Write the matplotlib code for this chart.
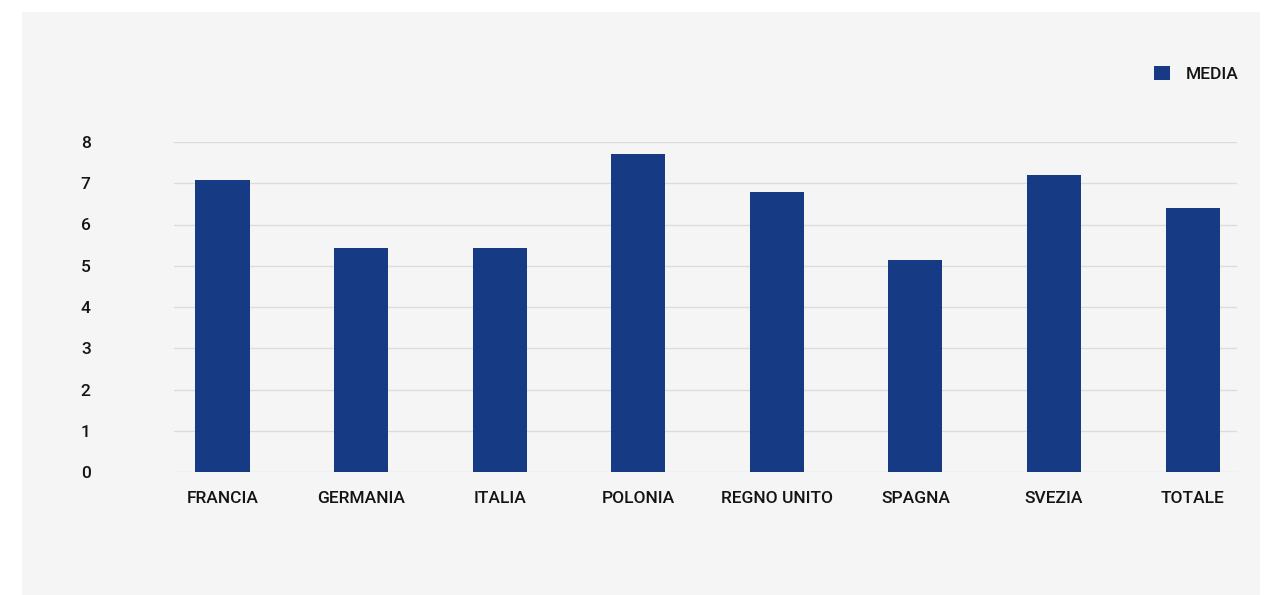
import matplotlib

matplotlib.use("Agg")
import matplotlib.pyplot as plt
from matplotlib.patches import Rectangle

paesi = ["FRANCIA", "GERMANIA", "ITALIA", "POLONIA", "REGNO UNITO",
         "SPAGNA", "SVEZIA", "TOTALE"]
media = [7.07, 5.42, 5.42, 7.70, 6.78, 5.15, 7.21, 6.41]
y_ticks = [0, 1, 2, 3, 4, 5, 6, 7, 8]

BLUE = "#163a84"
PANEL = "#f5f5f5"
GRID = "#dcdcdc"
TEXT = "#141414"

plt.rcParams["font.family"] = ["Roboto", "DejaVu Sans"]
plt.rcParams["font.weight"] = "medium"

W, H = 1275, 595
fig = plt.figure(figsize=(W / 100, H / 100), dpi=100)
fig.patch.set_facecolor("white")
fig.add_artist(Rectangle((22 / W, 0), (1260 - 22) / W, (595 - 12) / H,
                         transform=fig.transFigure, facecolor=PANEL,
                         edgecolor="none", zorder=0))

ax = fig.add_axes([174 / W, 1 - 472 / H, (1237 - 174) / W, (472 - 142) / H])
ax.set_facecolor("none")

x = list(range(len(paesi)))
ax.bar(x, media, width=0.39, color=BLUE, label="MEDIA", zorder=3)

ax.set_xlim(-0.35, len(paesi) - 1 + 0.32)
ax.set_ylim(0, 8)
ax.set_yticks(y_ticks)
ax.set_xticks(x)
ax.set_xticklabels(paesi)
ax.grid(axis="y", color=GRID, linewidth=1, zorder=0)
for s in ax.spines.values():
    s.set_visible(False)
ax.tick_params(axis="both", length=0, labelsize=12.5, colors=TEXT)
ax.tick_params(axis="y", pad=60)
ax.tick_params(axis="x", pad=14)

fig.legend(loc="upper right", bbox_to_anchor=(1254 / W, 1 - 50 / H),
           frameon=False, prop={"size": 12.5, "weight": "medium"},
           handlelength=0.9, handleheight=0.9,
           handletextpad=0.9, labelcolor=TEXT)

fig.savefig("out.png", dpi=100)
